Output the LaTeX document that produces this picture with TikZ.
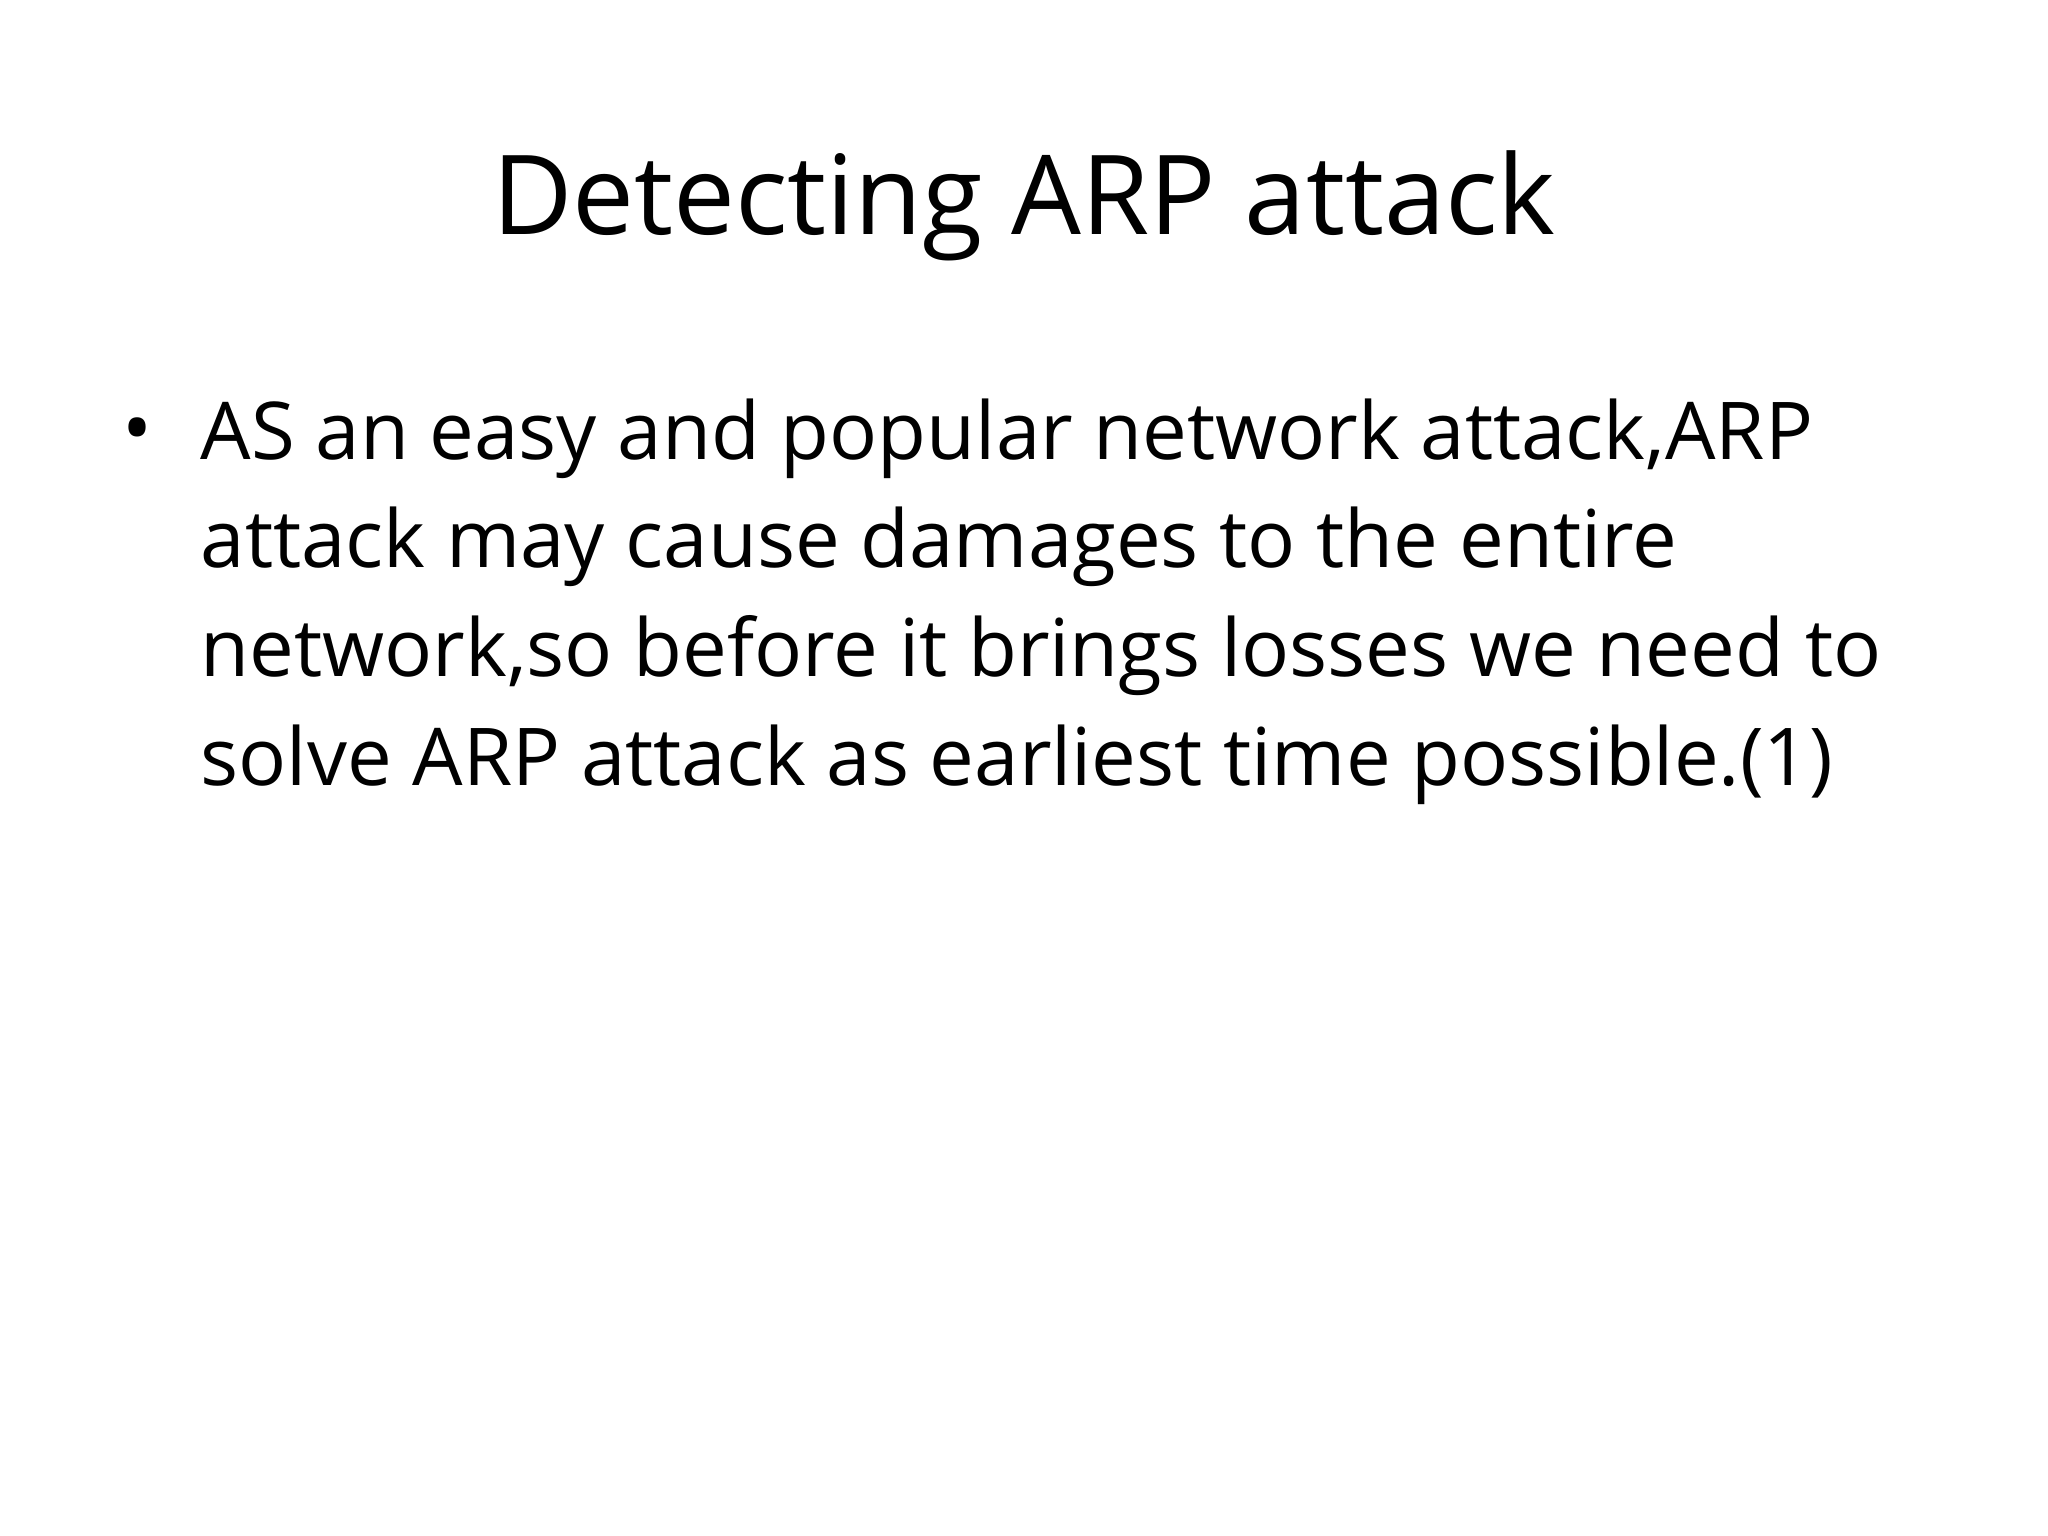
\documentclass[tikz,border=0pt]{standalone}
\usepackage{fontspec}
\setmainfont{Open Sans}[Ligatures=NoCommon]
\begin{document}
\begin{tikzpicture}[x=1cm,y=1cm,
  title/.style={font=\fontsize{31.4}{38}\selectfont, anchor=base, inner sep=0pt},
  body/.style={font=\fontsize{22.7}{30.9}\selectfont, anchor=base west, inner sep=0pt, align=left}]
\useasboundingbox (0,0) rectangle (20.48,15.36);
\node[title] (t) at (10.24,13.01) {Detecting ARP attack};
\node[body] (b) at (1.22,10.79) {•};
\node[body, anchor=north west] (txt) at (2.0,11.38) {AS an easy and popular network attack,ARP\\attack may cause damages to the entire\\network,so before it brings losses we need to\\solve ARP attack as earliest time possible.(1)};
\end{tikzpicture}
\end{document}
